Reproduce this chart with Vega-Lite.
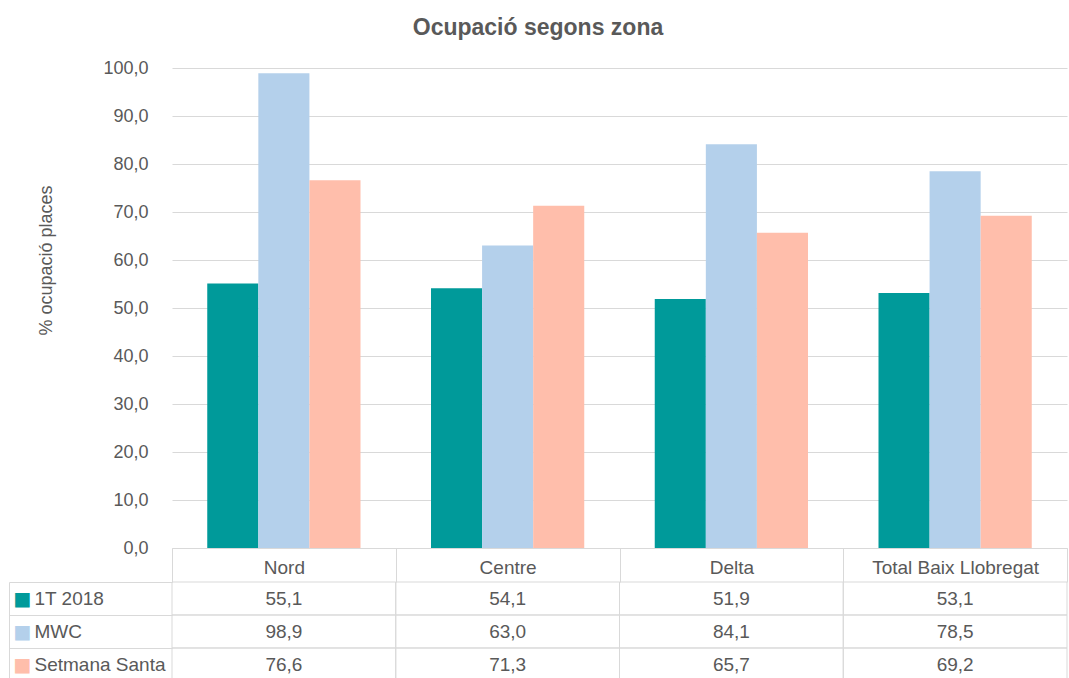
{
  "$schema": "https://vega.github.io/schema/vega-lite/v6.json",
  "padding": {"left": 8, "top": 17, "right": 3, "bottom": 0},
  "spacing": 34,
  "bounds": "flush",
  "title": {"text": "Ocupació segons zona", "fontSize": 23, "fontWeight": "bold", "color": "#595959", "font": "Liberation Sans", "anchor": "middle", "offset": 19},
  "config": {
    "view": {"stroke": null},
    "font": "Liberation Sans",
    "locale": {"number": {"decimal": ",", "thousands": ".", "grouping": [3], "currency": ["", " €"]}}
  },
  "datasets": {
    "d": [
      {"zona": "Nord", "serie": "1T 2018", "valor": 55.1},
      {"zona": "Nord", "serie": "MWC", "valor": 98.9},
      {"zona": "Nord", "serie": "Setmana Santa", "valor": 76.6},
      {"zona": "Centre", "serie": "1T 2018", "valor": 54.1},
      {"zona": "Centre", "serie": "MWC", "valor": 63.0},
      {"zona": "Centre", "serie": "Setmana Santa", "valor": 71.3},
      {"zona": "Delta", "serie": "1T 2018", "valor": 51.9},
      {"zona": "Delta", "serie": "MWC", "valor": 84.1},
      {"zona": "Delta", "serie": "Setmana Santa", "valor": 65.7},
      {"zona": "Total Baix Llobregat", "serie": "1T 2018", "valor": 53.1},
      {"zona": "Total Baix Llobregat", "serie": "MWC", "valor": 78.5},
      {"zona": "Total Baix Llobregat", "serie": "Setmana Santa", "valor": 69.2}
    ]
  },
  "vconcat": [
    {
      "width": 895,
      "height": 480,
      "data": {"name": "d"},
      "mark": {"type": "bar"},
      "encoding": {
        "x": {
          "field": "zona", "type": "nominal",
          "sort": ["Nord", "Centre", "Delta", "Total Baix Llobregat"],
          "scale": {"paddingInner": 0, "paddingOuter": 0},
          "axis": {"title": null, "labelAngle": 0, "domain": true, "domainColor": "#d9d9d9", "ticks": true, "tickBand": "extent", "tickSize": 34, "tickColor": "#d9d9d9", "labelPadding": -15, "labelBaseline": "middle", "labelFontSize": 19, "labelColor": "#595959", "labelLimit": 0}
        },
        "xOffset": {"field": "serie", "type": "nominal", "sort": ["1T 2018", "MWC", "Setmana Santa"], "scale": {"paddingInner": 0, "paddingOuter": 0.69}},
        "y": {
          "field": "valor", "type": "quantitative",
          "scale": {"domain": [0, 100], "nice": false},
          "axis": {"title": "% ocupació places", "values": [0,10,20,30,40,50,60,70,80,90,100], "format": ".1f", "labelOverlap": false, "domain": false, "ticks": false, "grid": true, "gridColor": "#d9d9d9", "labelPadding": 24, "labelFontSize": 18, "labelColor": "#595959", "titleFontSize": 18, "titleFontWeight": "normal", "titleColor": "#595959", "titleX": -117, "titleY": 192}
        },
        "color": {
          "field": "serie", "type": "nominal",
          "sort": ["1T 2018", "MWC", "Setmana Santa"],
          "scale": {"domain": ["1T 2018", "MWC", "Setmana Santa"], "range": ["#009a9a", "#b4d0eb", "#ffbeab"]},
          "legend": null
        }
      }
    },
    {
      "width": 895,
      "height": 99,
      "data": {"name": "d"},
      "encoding": {
        "x": {"field": "zona", "type": "nominal", "sort": ["Nord", "Centre", "Delta", "Total Baix Llobregat"], "scale": {"paddingInner": 0, "paddingOuter": 0}, "axis": null},
        "y": {"field": "serie", "type": "nominal", "sort": ["1T 2018", "MWC", "Setmana Santa"], "scale": {"paddingInner": 0, "paddingOuter": 0}}
      },
      "layer": [
        {
          "mark": {"type": "rect", "filled": false, "stroke": "#d9d9d9", "strokeWidth": 1},
          "encoding": {
            "y": {"field": "serie", "type": "nominal", "sort": ["1T 2018", "MWC", "Setmana Santa"],
              "axis": {"title": null, "orient": "left", "domain": false, "ticks": true, "tickBand": "extent", "tickSize": 163, "tickColor": "#d9d9d9", "labelAlign": "left", "labelPadding": -25, "labelBaseline": "middle", "labelFontSize": 19, "labelColor": "#595959", "labelLimit": 0}}
          }
        },
        {
          "mark": {"type": "text", "fontSize": 19, "color": "#595959", "baseline": "middle"},
          "encoding": {
            "text": {"field": "valor", "type": "quantitative", "format": ".1f"},
            "y": {"field": "serie", "type": "nominal", "sort": ["1T 2018", "MWC", "Setmana Santa"],
              "axis": {"title": null, "orient": "left", "offset": 163, "domain": true, "domainColor": "#d9d9d9", "ticks": false, "tickSize": 0, "labelExpr": "'■'", "labelAlign": "left", "labelPadding": -4, "labelBaseline": "middle", "labelFontSize": 19, "labelFont": "DejaVu Sans",
                "labelColor": {"condition": [{"test": "datum.value === '1T 2018'", "value": "#009a9a"}, {"test": "datum.value === 'MWC'", "value": "#b4d0eb"}], "value": "#ffbeab"}}}
          }
        }
      ],
      "resolve": {"axis": {"y": "independent"}}
    }
  ]
}
